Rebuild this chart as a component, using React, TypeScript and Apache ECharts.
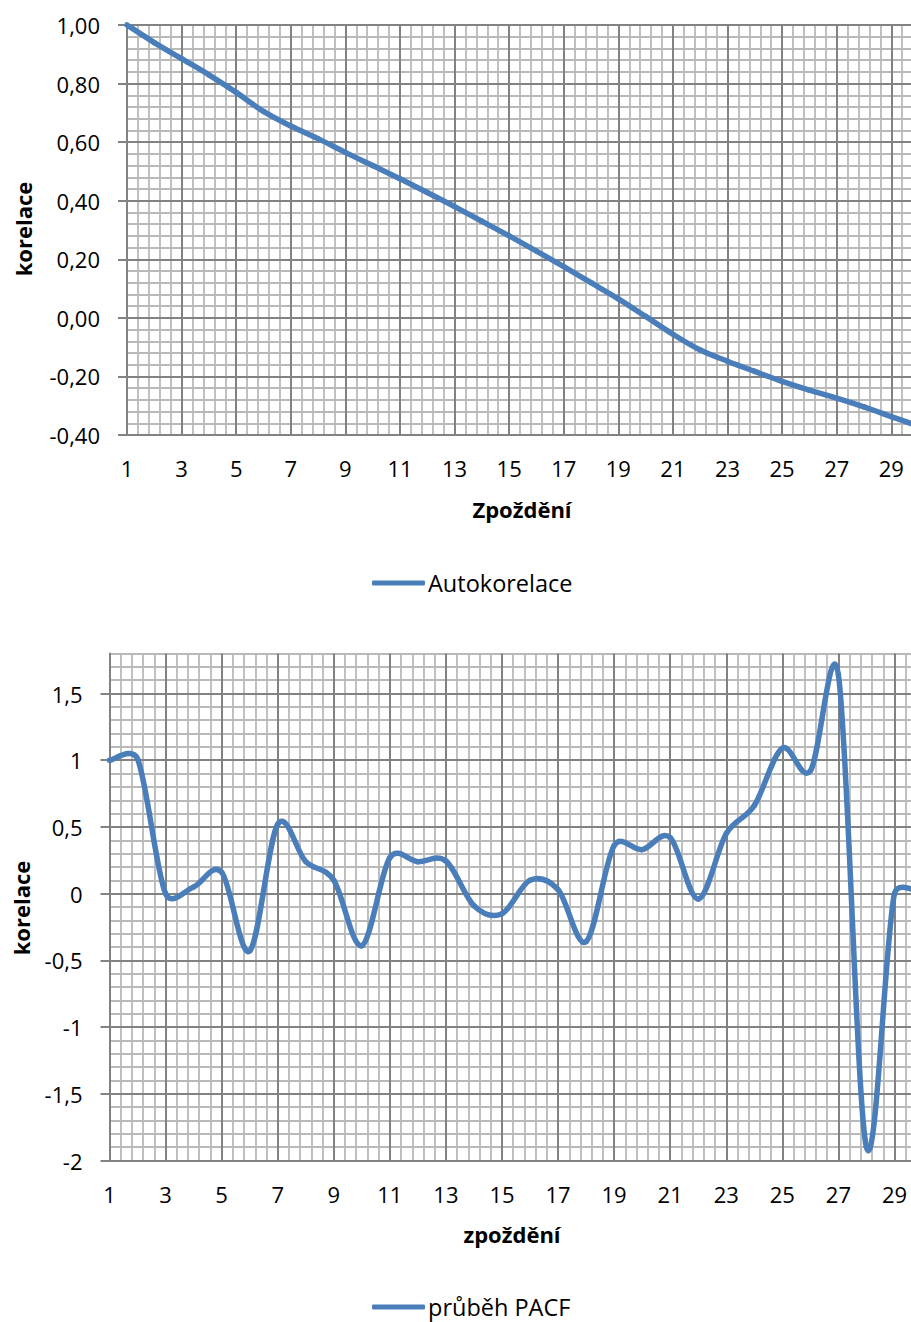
import React, { useEffect, useRef } from "react";
import * as echarts from "echarts";

// Lags shown on both charts
const lags = [
  "1", "2", "3", "4", "5", "6", "7", "8", "9", "10",
  "11", "12", "13", "14", "15", "16", "17", "18", "19", "20",
  "21", "22", "23", "24", "25", "26", "27", "28", "29", "30",
];

// Autocorrelation function values per lag
const acf = [
  1.0, 0.94, 0.885, 0.83, 0.77, 0.705, 0.655, 0.612, 0.565, 0.52,
  0.475, 0.428, 0.38, 0.33, 0.28, 0.228, 0.175, 0.12, 0.065, 0.005,
  -0.056, -0.11, -0.148, -0.183, -0.217, -0.247, -0.274, -0.304, -0.337, -0.37,
];

// Partial autocorrelation function values per lag
const pacf = [
  1.0, 1.01, 0.0, 0.05, 0.16, -0.43, 0.52, 0.24, 0.1, -0.39,
  0.27, 0.24, 0.245, -0.09, -0.15, 0.1, 0.03, -0.36, 0.36, 0.33,
  0.42, -0.04, 0.45, 0.66, 1.09, 0.92, 1.64, -1.9, 0.0, 0.01,
];

const acfName = "Autokorelace";
const pacfName = "průběh PACF";
const yTitle = "korelace";
const xTitle1 = "Zpoždění";
const xTitle2 = "zpoždění";

const FONT = "'Open Sans', 'Noto Sans', sans-serif";
const MAJOR = "#828282";
const MINOR = "#b9b9b9";
const LINE = "#4a7ebb";
const LINE_WIDTH = 5.5;

// Spreadsheet-style smoothed line: each segment is a cubic Bezier whose
// control arms follow the neighbouring points (Catmull-Rom, 1/6 tension),
// with the arms kept within half of the segment length.
function smoothLine(values: number[]) {
  return (params: any, api: any) => {
    const i = params.dataIndex;
    const n = values.length;
    if (i >= n - 1) return null;
    const pt = (k: number) => {
      const c = Math.max(0, Math.min(n - 1, k));
      return api.coord([c, values[c]]);
    };
    const p0 = pt(i - 1);
    const p1 = pt(i);
    const p2 = pt(i + 1);
    const p3 = pt(i + 2);
    const seg = Math.hypot(p2[0] - p1[0], p2[1] - p1[1]);
    const arm = (a: number[], c: number[]) => {
      let dx = (c[0] - a[0]) / 6;
      let dy = (c[1] - a[1]) / 6;
      const len = Math.hypot(dx, dy);
      const cap = 0.5 * seg;
      if (len > cap && len > 0) {
        dx *= cap / len;
        dy *= cap / len;
      }
      return [dx, dy];
    };
    const a1 = arm(p0, p2);
    const a2 = arm(p1, p3);
    return {
      type: "bezierCurve",
      shape: {
        x1: p1[0],
        y1: p1[1],
        x2: p2[0],
        y2: p2[1],
        cpx1: p1[0] + a1[0],
        cpy1: p1[1] + a1[1],
        cpx2: p2[0] - a2[0],
        cpy2: p2[1] - a2[1],
      },
      style: { stroke: LINE, lineWidth: LINE_WIDTH, fill: "none", lineCap: "round" },
    };
  };
}

export default function App() {
  const ref = useRef<HTMLDivElement>(null);

  useEffect(() => {
    if (!ref.current) return;
    const chart = echarts.init(ref.current, null, { renderer: "svg" });

    const label = { color: "#000", fontFamily: FONT, fontSize: 22 };

    const majorX = (gridIndex: number) => ({
      type: "category",
      gridIndex,
      data: lags,
      boundaryGap: false,
      z: 1,
      axisLine: { show: true, lineStyle: { color: MAJOR, width: 2 } },
      axisTick: { show: true, interval: 1, length: 9, lineStyle: { color: MAJOR, width: 2 } },
      axisLabel: { ...label, interval: 1, margin: 22 },
      splitLine: { show: true, interval: 1, lineStyle: { color: MAJOR, width: 2 } },
    });

    const minorX = (gridIndex: number) => ({
      type: "value",
      gridIndex,
      min: 0,
      max: lags.length - 1,
      interval: 0.4,
      z: 0,
      axisLine: { show: false },
      axisTick: { show: false },
      axisLabel: { show: false },
      splitLine: { show: true, lineStyle: { color: MINOR, width: 1.8 } },
    });

    const minorY = (gridIndex: number, min: number, max: number, interval: number) => ({
      type: "value",
      gridIndex,
      min,
      max,
      interval,
      z: 0,
      axisLine: { show: false },
      axisTick: { show: false },
      axisLabel: { show: false },
      splitLine: { show: true, lineStyle: { color: MINOR, width: 1.8 } },
    });

    const legendBase = {
      left: 372,
      padding: 0,
      itemWidth: 53,
      itemHeight: 5,
      itemGap: 0,
      icon: "roundRect",
      textStyle: { ...label, fontSize: 23.5, lineHeight: 24, padding: [0, 0, 0, -2] },
    };

    const titleStyle = (text: string) => ({
      text,
      fill: "#000",
      font: `bold 22px ${FONT}`,
      align: "center",
      verticalAlign: "middle",
    });

    const option = {
      animation: false,
      backgroundColor: "#fff",
      grid: [
        { left: 127, top: 25, width: 791.6, height: 410 },
        { left: 109.5, top: 653.5, width: 813, height: 507 },
      ],
      xAxis: [majorX(0), majorX(1), minorX(0), minorX(1)],
      yAxis: [
        {
          type: "value",
          gridIndex: 0,
          min: -0.4,
          max: 1.0,
          interval: 0.2,
          z: 1,
          axisLine: { show: true, lineStyle: { color: MAJOR, width: 2 } },
          axisTick: { show: true, length: 9, lineStyle: { color: MAJOR, width: 2 } },
          axisLabel: {
            ...label,
            margin: 27,
            formatter: (v: number) => v.toFixed(2).replace(".", ","),
          },
          splitLine: { show: true, lineStyle: { color: MAJOR, width: 2 } },
        },
        {
          type: "value",
          gridIndex: 1,
          min: -2,
          max: 1.8,
          interval: 0.5,
          z: 1,
          axisLine: { show: true, lineStyle: { color: MAJOR, width: 2 } },
          axisTick: {
            show: true,
            length: 9,
            customValues: [-2, -1.5, -1, -0.5, 0, 0.5, 1, 1.5],
            lineStyle: { color: MAJOR, width: 2 },
          },
          axisLabel: {
            ...label,
            margin: 27,
            showMaxLabel: false,
            formatter: (v: number) => String(v).replace(".", ","),
          },
          splitLine: { show: true, lineStyle: { color: MAJOR, width: 2 } },
        },
        minorY(0, -0.4, 1.0, 0.04),
        minorY(1, -2, 1.8, 0.1),
      ],
      legend: [
        { ...legendBase, data: [acfName], top: 571 },
        { ...legendBase, data: [pacfName], top: 1295 },
      ],
      graphic: [
        { type: "text", x: 23, y: 229, rotation: Math.PI / 2, style: titleStyle(yTitle) },
        { type: "text", x: 21, y: 908, rotation: Math.PI / 2, style: titleStyle(yTitle) },
        { type: "text", x: 522, y: 509, style: titleStyle(xTitle1) },
        { type: "text", x: 512, y: 1234, style: titleStyle(xTitle2) },
      ],
      series: [
        {
          name: acfName,
          type: "custom",
          xAxisIndex: 0,
          yAxisIndex: 0,
          data: acf.map((v, i) => [i, v]),
          encode: { x: 0, y: 1 },
          renderItem: smoothLine(acf),
          z: 3,
          itemStyle: { color: LINE },
        },
        {
          name: pacfName,
          type: "custom",
          xAxisIndex: 1,
          yAxisIndex: 1,
          data: pacf.map((v, i) => [i, v]),
          encode: { x: 0, y: 1 },
          renderItem: smoothLine(pacf),
          z: 3,
          itemStyle: { color: LINE },
        },
      ],
    };

    chart.setOption(option as any);
    return () => chart.dispose();
  }, []);

  // The chart is laid out a little wider than the page, so the plot area
  // runs off the right edge and is clipped by the outer frame.
  return (
    <div
      style={{
        position: "absolute",
        left: 0,
        top: 0,
        width: 911,
        height: 1322,
        overflow: "hidden",
        background: "#fff",
      }}
    >
      <div ref={ref} style={{ width: 940, height: 1322 }} />
    </div>
  );
}
